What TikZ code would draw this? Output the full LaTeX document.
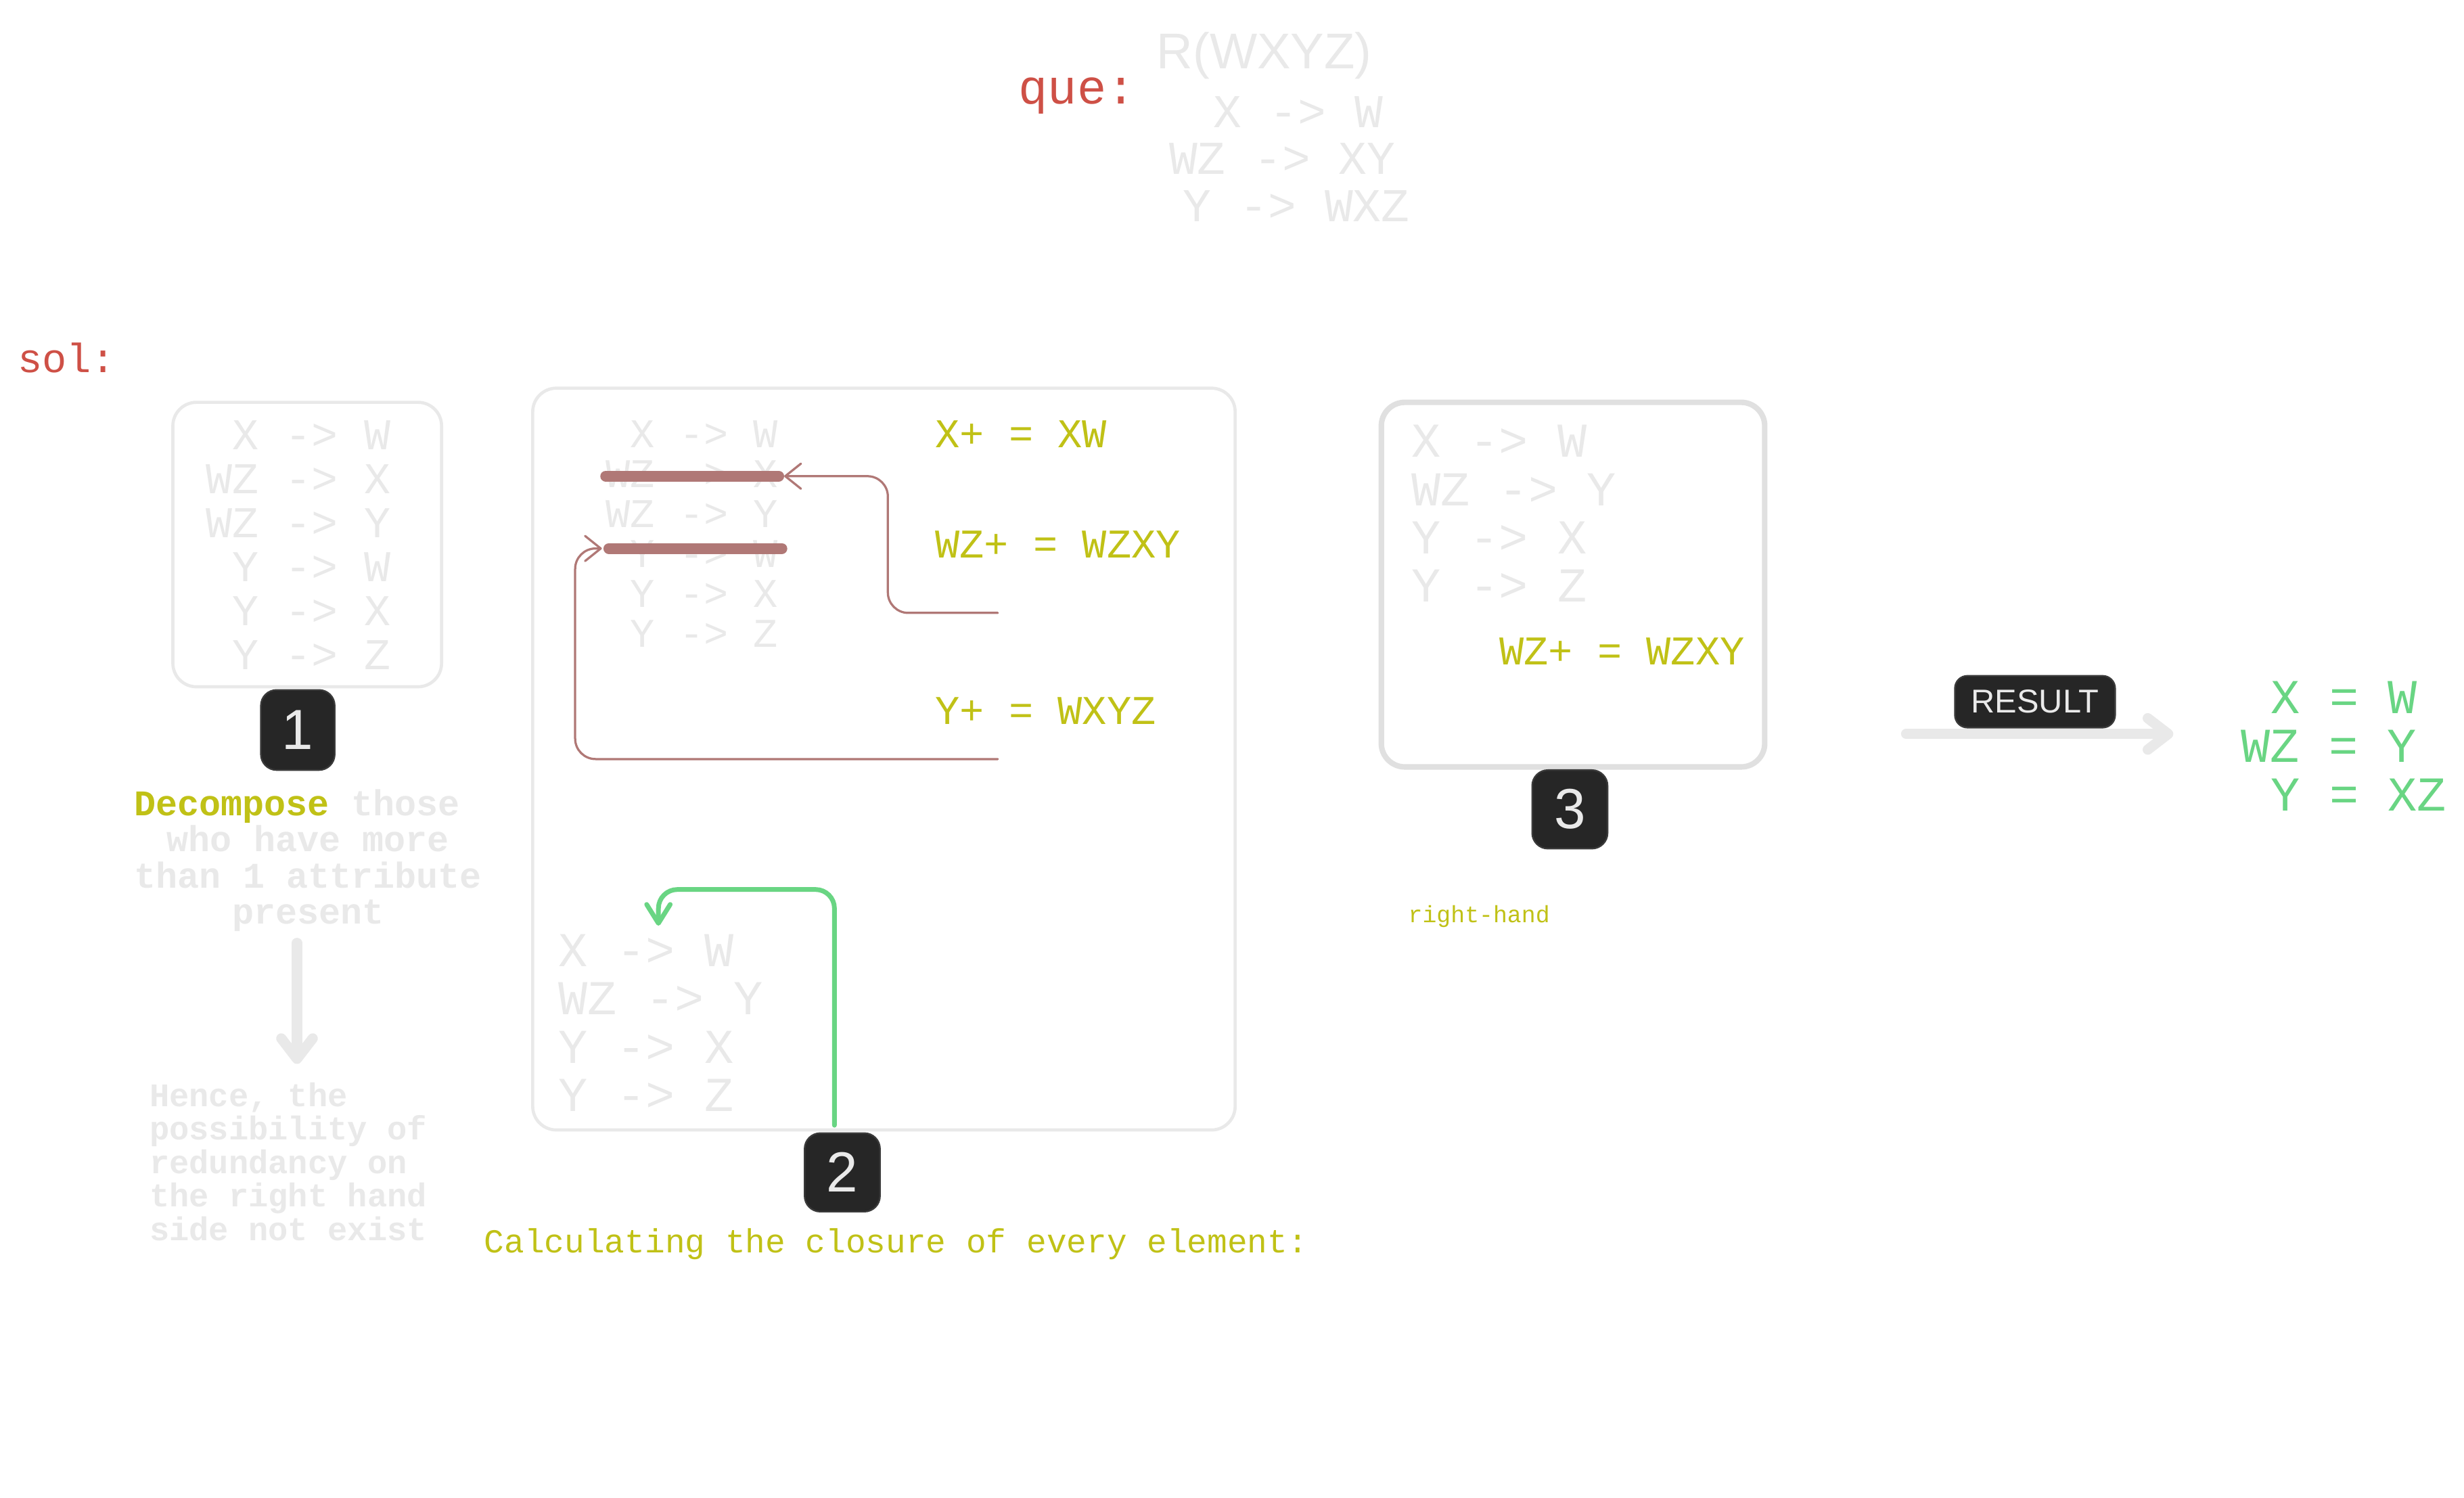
\documentclass[tikz,border=0pt]{standalone}
\usepackage{fontspec}
\setmainfont{Liberation Sans}
\newfontfamily\codefont{Liberation Mono}
\usetikzlibrary{arrows.meta}
\definecolor{faint}{RGB}{233,233,233}
\definecolor{frame3}{RGB}{224,224,224}
\definecolor{closure}{RGB}{192,193,22}
\definecolor{quered}{RGB}{206,80,70}
\definecolor{rose}{RGB}{176,120,118}
\definecolor{mint}{RGB}{105,213,131}
\definecolor{badgefill}{RGB}{38,38,38}
\definecolor{badgeedge}{RGB}{58,58,58}
\begin{document}
\begin{tikzpicture}[x=1pt,y=-1pt,line cap=round,line join=round,
    code/.style={font=\codefont\fontsize{#1}{#1}\selectfont,inner sep=0pt},
    note/.style={font=\codefont\bfseries\fontsize{#1}{#1}\selectfont,inner sep=0pt,text=faint},
    panel/.style={draw=faint,line width=2pt,rounded corners=15pt,inner sep=0pt},
    badge/.style={fill=badgefill,draw=badgeedge,line width=1pt,rounded corners=10pt,
      text=faint,inner sep=0pt,minimum width=48pt,minimum height=50pt,
      font=\fontsize{36}{36}\selectfont},
    strike/.style={rose,line width=7pt},
    link/.style={rose,line width=1.4pt,rounded corners=13pt,
      -{Straight Barb[length=10pt,width=16pt,round]}},
    hook/.style={mint,line width=3pt,rounded corners=12pt,
      -{Straight Barb[length=12pt,width=15pt,round]}},
    flow/.style={faint,line width=6.5pt,-{Straight Barb[length=13pt,width=20pt,round]}}]
  \path[use as bounding box,fill=white] (0,0) rectangle (1568,953);
  % The question: relation and its dependencies.
  \node[code=31,text=quered,anchor=base west] (que) at (648,66) {que:};
  \node[font=\fontsize{32}{32}\selectfont,text=faint,inner sep=0pt,anchor=base] (rel) at (804.5,43.5) {R(WXYZ)};
  \foreach \t/\cx/\yy [count=\i] in {X -> W/826/81,WZ -> XY/816/111,Y -> WXZ/825/141}
    \node[code=30,text=faint,anchor=base] (fd-\i) at (\cx,\yy) {\t};
  \node[code=26,text=quered,anchor=base west] (sol) at (11,237) {sol:};
  % Step 1: decomposed dependencies.
  \node[panel,minimum width=171pt,minimum height=181pt] (box1) at (195.5,346.5) {};
  \foreach \t [count=\i] in {X -> W,WZ -> X,WZ -> Y,Y -> W,Y -> X,Y -> Z}
    \node[code=28,text=faint,anchor=base east] (d-\i) at (249,{286+28*(\i-1)}) {\t};
  \node[badge,minimum width=47pt,minimum height=51pt] (n1) at (189.5,464.5) {1};
  \node[note=23,anchor=base] (dec-1) at (189,519) {\textcolor{closure}{Decompose} those};
  \foreach \t [count=\i from 2] in {who have more,than 1 attribute,present}
    \node[note=23,anchor=base] (dec-\i) at (196,{519+23*(\i-1)}) {\t};
  \coordinate (d0) at (189,600);
  \coordinate (d1) at (189,677);
  \draw[flow] (d0) -- (d1);
  \foreach \t [count=\i] in {{Hence, the},possibility of,redundancy on,the right hand,side not exist}
    \node[note=21,anchor=base west] (hence-\i) at (95,{704+21.3*(\i-1)}) {\t};
  % Step 2: closures.
  \node[panel,minimum width=447pt,minimum height=472pt] (box2) at (562.5,483) {};
  \foreach \t [count=\i] in {X -> W,WZ -> X,WZ -> Y,Y -> W,Y -> X,Y -> Z}
    \node[code=26,text=faint,anchor=base east] (s-\i) at (495,{285+25.4*(\i-1)}) {\t};
  \foreach \t/\yy [count=\i] in {X+ = XW/285,WZ+ = WZXY/355,Y+ = WXYZ/461}
    \node[code=26,text=closure,anchor=base west] (cl-\i) at (595,\yy) {\t};
  \coordinate (bar1w) at (385.5,303);
  \coordinate (bar1e) at (495.5,303);
  \coordinate (bar2w) at (387.5,349);
  \coordinate (bar2e) at (497.5,349);
  \draw[strike] (bar1w) -- (bar1e);
  \draw[strike] (bar2w) -- (bar2e);
  \coordinate (c1) at (635,390);
  \coordinate (c2) at (635,483);
  \coordinate (tip1) at (499,303);
  \coordinate (tip2) at (383,349);
  \draw[link] (c1) -- (565,390) -- (565,303) -- (tip1);
  \draw[link] (c2) -- (366,483) -- (366,349) -- (tip2);
  \foreach \t [count=\i] in {X -> W,WZ -> Y,Y -> X,Y -> Z}
    \node[code=31,text=faint,anchor=base west] (m-\i) at (355,{615+30.7*(\i-1)}) {\t};
  \coordinate (g0) at (531,716);
  \coordinate (g1) at (419,589);
  \draw[hook] (g0) -- (531,566) -- (419,566) -- (g1);
  \node[badge] (n2) at (536,746) {2};
  \node[code=21.3,text=closure,anchor=base west] (calc) at (308,797) {Calculating the closure of every element:};
  % Step 3: minimal cover.
  \node[panel,draw=frame3,line width=3.5pt,minimum width=244pt,minimum height=232pt] (box3) at (1001,372) {};
  \foreach \t [count=\i] in {X -> W,WZ -> Y,Y -> X,Y -> Z}
    \node[code=31,text=faint,anchor=base west] (r-\i) at (898,{291+30.7*(\i-1)}) {\t};
  \node[code=26,text=closure,anchor=base west] (cl-4) at (954,423) {WZ+ = WZXY};
  \node[badge] (n3) at (999,515) {3};
  \node[code=15,text=closure,anchor=base west] (rh) at (896,587) {right-hand};
  % Result.
  \coordinate (r0) at (1213,467);
  \coordinate (r1) at (1383,467);
  \draw[flow] (r0) -- (r1);
  \node[badge,minimum width=102pt,minimum height=33pt,rounded corners=8pt,
    font=\fontsize{21}{21}\selectfont] (res) at (1295,446.5) {RESULT};
  \node[code=31,text=mint,anchor=base west] (eq-1) at (1445,454) {X = W};
  \node[code=31,text=mint,anchor=base west] (eq-2) at (1426,485) {WZ = Y};
  \node[code=31,text=mint,anchor=base west] (eq-3) at (1445,516) {Y = XZ};
\end{tikzpicture}
\end{document}
